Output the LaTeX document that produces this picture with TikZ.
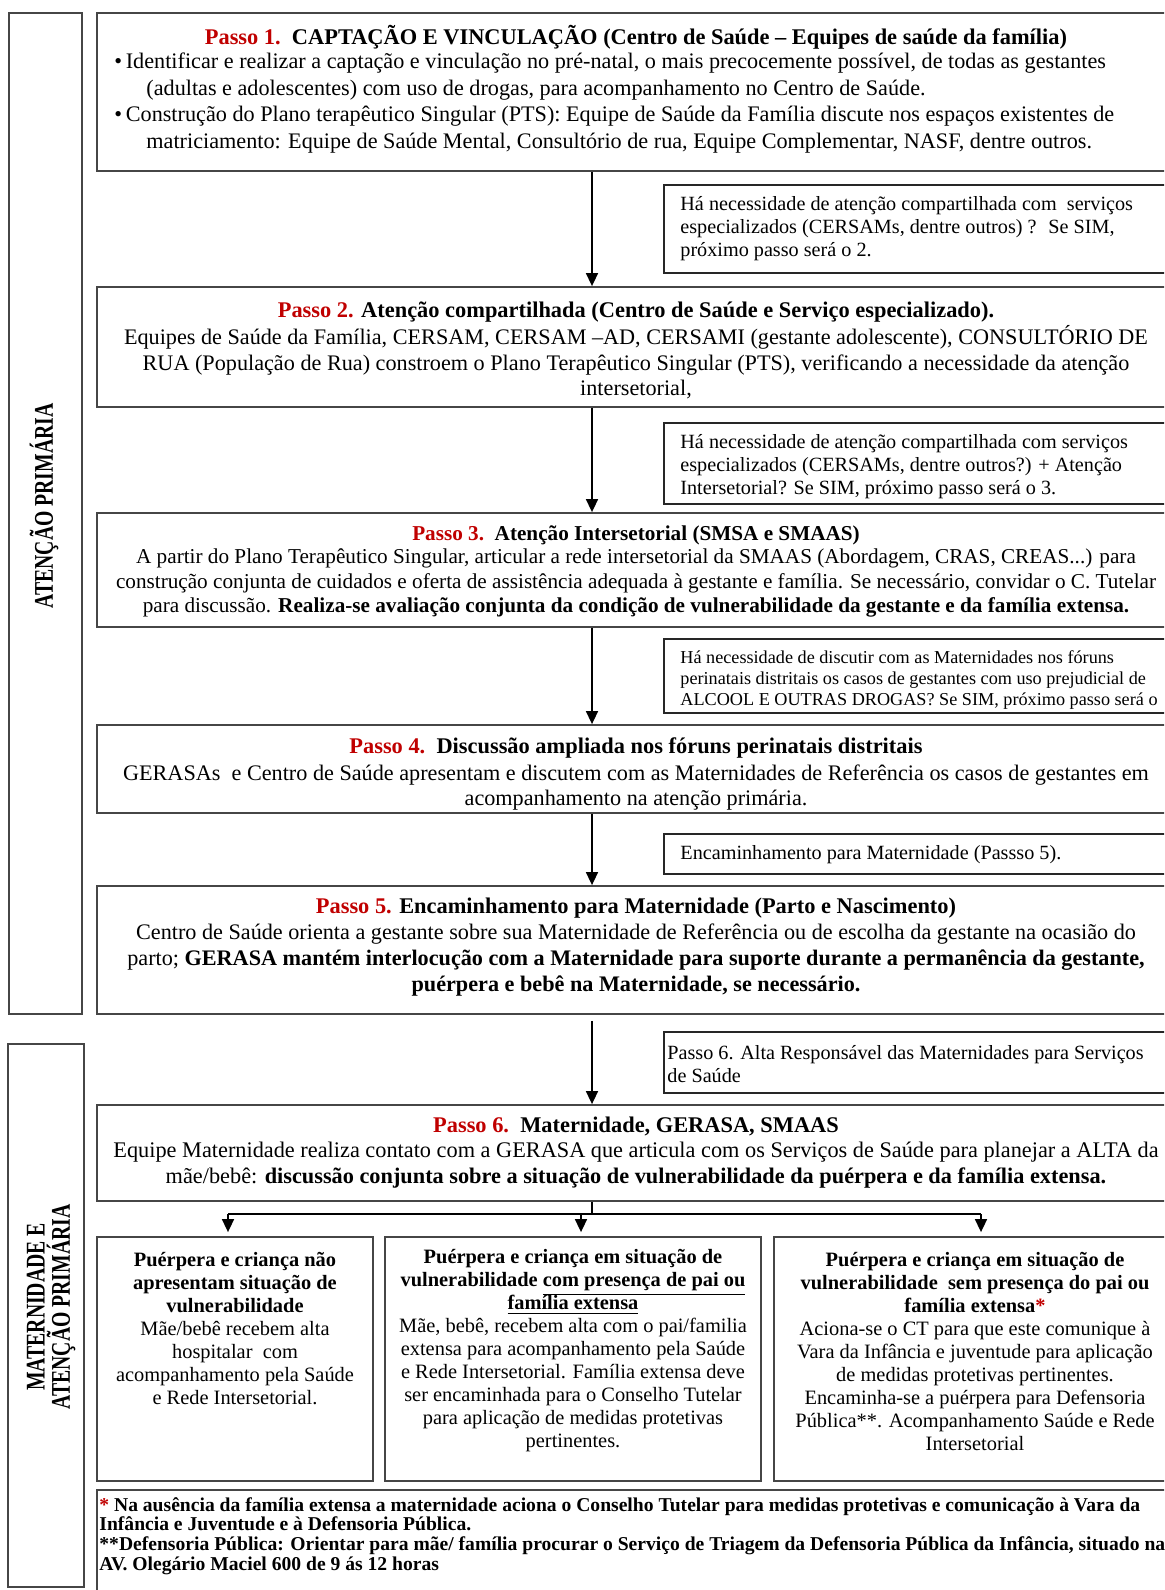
\documentclass[tikz,border=0pt]{standalone}
\usepackage{fontspec}
\setmainfont{Liberation Serif}
\usetikzlibrary{arrows.meta,fit,positioning}
\definecolor{passored}{RGB}{192,0,0}
\definecolor{boxgray}{RGB}{70,70,70}
\newcommand{\passolbl}[1]{\textcolor{passored}{Passo #1.}}
\tikzset{
  box/.style={draw=boxgray,line width=0.9pt,inner sep=0pt},
  sidebox/.style={draw=black!85,line width=1pt,inner sep=0pt},
  steptitle/.style={font=\fontsize{11.2}{12.5}\selectfont\bfseries,inner sep=0pt},
  stepbody/.style={font=\fontsize{11.1}{12.8}\selectfont,align=center,inner sep=0pt},
  sidetext/.style={font=\fontsize{10.1}{11.5}\selectfont,align=left,anchor=west,inner sep=0pt},
  branchtext/.style={font=\fontsize{10.2}{11.5}\selectfont,align=center,inner sep=0pt},
  sidelabel/.style={font=\fontsize{13.5}{11}\selectfont\bfseries,rotate=90,align=center,inner sep=0pt},
  arr/.style={-{Triangle[width=6pt,length=6.5pt]},line width=0.8pt}
}
\begin{document}
\begin{tikzpicture}[x=0.5pt,y=-0.5pt]
  \useasboundingbox (0,0) rectangle (1164,1590);
  \clip (0,0) rectangle (1164,1590);

  % Left labels
  \node[box,fit={(9,13) (82,1014)}] (ap) {};
  \node[sidelabel] (apt) at (44,506) {\scalebox{0.73}[1]{ATENÇÃO PRIMÁRIA}};
  \node[box,fit={(8,1044) (84,1587)}] (mat) {};
  \node[sidelabel] (matt) at (51,1307) {\scalebox{0.73}[1]{MATERNIDADE E}\\\scalebox{0.73}[1]{ATENÇÃO PRIMÁRIA}};

  % Passo 1
  \node[box,fit={(97,13) (1175,171)}] (p1) {};
  \node[steptitle] (p1t) at (636,37) {\passolbl{1}\ \ CAPTAÇÃO E VINCULAÇÃO (Centro de Saúde – Equipes de saúde da família)};
  \node[stepbody,align=left,anchor=west,font=\fontsize{11.1}{13.3}\selectfont] (p1b) at (114,103)
    {\textbullet\,Identificar e realizar a captação e vinculação no pré-natal, o mais precocemente possível, de todas as gestantes\\
     \hspace*{16pt}(adultas e adolescentes) com uso de drogas, para acompanhamento no Centro de Saúde.\\
     \textbullet\,Construção do Plano terapêutico Singular (PTS): Equipe de Saúde da Família discute nos espaços existentes de\\
     \hspace*{16pt}matriciamento: Equipe de Saúde Mental, Consultório de rua, Equipe Complementar, NASF, dentre outros.};
  \node[sidebox,fit={(664,185) (1175,273)}] (s1) {};
  \node[sidetext] (s1t) at (680,229)
    {Há necessidade de atenção compartilhada com \ serviços\\
     especializados (CERSAMs, dentre outros) ? \ Se SIM,\\
     próximo passo será o 2.};

  % Passo 2
  \node[box,fit={(97,287) (1175,407)}] (p2) {};
  \node[steptitle] (p2t) at (636,312) {\passolbl{2} Atenção compartilhada (Centro de Saúde e Serviço especializado).};
  \node[stepbody] (p2b) at (636,362.5)
    {Equipes de Saúde da Família, CERSAM, CERSAM –AD, CERSAMI (gestante adolescente), CONSULTÓRIO DE\\
     RUA (População de Rua) constroem o Plano Terapêutico Singular (PTS), verificando a necessidade da atenção\\
     intersetorial,};
  \node[sidebox,fit={(664,423) (1175,504)}] (s2) {};
  \node[sidetext] (s2t) at (680,466.5)
    {Há necessidade de atenção compartilhada com serviços\\
     especializados (CERSAMs, dentre outros?) + Atenção\\
     Intersetorial? Se SIM, próximo passo será o 3.};

  % Passo 3
  \node[box,fit={(97,513) (1175,627)}] (p3) {};
  \node[steptitle,font=\fontsize{10.6}{12.5}\selectfont\bfseries] (p3t) at (636,535) {\passolbl{3}\ \ Atenção Intersetorial (SMSA e SMAAS)};
  \node[stepbody,font=\fontsize{10.6}{12.4}\selectfont] (p3b) at (636,583)
    {A partir do Plano Terapêutico Singular, articular a rede intersetorial da SMAAS (Abordagem, CRAS, CREAS...) para\\
     construção conjunta de cuidados e oferta de assistência adequada à gestante e família. Se necessário, convidar o C. Tutelar\\
     para discussão. \textbf{Realiza-se avaliação conjunta da condição de vulnerabilidade da gestante e da família extensa.}};
  \node[sidebox,fit={(664,639) (1175,713)}] (s3) {};
  \node[sidetext,font=\fontsize{9.1}{10.6}\selectfont] (s3t) at (680,680)
    {Há necessidade de discutir com as Maternidades nos fóruns\\
     perinatais distritais os casos de gestantes com uso prejudicial de\\
     ALCOOL E OUTRAS DROGAS? Se SIM, próximo passo será o};

  % Passo 4
  \node[box,fit={(97,725) (1175,813)}] (p4) {};
  \node[steptitle] (p4t) at (636,748) {\passolbl{4}\ \ Discussão ampliada nos fóruns perinatais distritais};
  \node[stepbody] (p4b) at (636,787.5)
    {GERASAs \ e Centro de Saúde apresentam e discutem com as Maternidades de Referência os casos de gestantes em\\
     acompanhamento na atenção primária.};
  \node[sidebox,fit={(664,834) (1175,874)}] (s4) {};
  \node[sidetext] (s4t) at (680,855) {Encaminhamento para Maternidade (Passso 5).};

  % Passo 5
  \node[box,fit={(97,886) (1175,1014)}] (p5) {};
  \node[steptitle] (p5t) at (636,908) {\passolbl{5} Encaminhamento para Maternidade (Parto e Nascimento)};
  \node[stepbody] (p5b) at (636,960)
    {Centro de Saúde orienta a gestante sobre sua Maternidade de Referência ou de escolha da gestante na ocasião do\\
     parto; \textbf{GERASA mantém interlocução com a Maternidade para suporte durante a permanência da gestante,}\\
     \textbf{puérpera e bebê na Maternidade, se necessário.}};
  \node[sidebox,fit={(664,1032) (1175,1093)}] (s5) {};
  \node[sidetext] (s5t) at (667,1064.5)
    {Passo 6. Alta Responsável das Maternidades para Serviços\\
     de Saúde};

  % Passo 6
  \node[box,fit={(97,1105) (1175,1201)}] (p6) {};
  \node[steptitle] (p6t) at (636,1126) {\passolbl{6}\ \ Maternidade, GERASA, SMAAS};
  \node[stepbody,font=\fontsize{11.15}{13}\selectfont] (p6b) at (636,1165)
    {Equipe Maternidade realiza contato com a GERASA que articula com os Serviços de Saúde para planejar a ALTA da\\
     mãe/bebê: \textbf{discussão conjunta sobre a situação de vulnerabilidade da puérpera e da família extensa.}};

  % Branches
  \node[box,fit={(97,1237) (373,1481)}] (ba) {};
  \node[branchtext] (bat) at (235,1328.5)
    {\textbf{Puérpera e criança não}\\
     \textbf{apresentam situação de}\\
     \textbf{vulnerabilidade}\\
     Mãe/bebê recebem alta\\
     hospitalar \ com\\
     acompanhamento pela Saúde\\
     e Rede Intersetorial.};
  \node[box,fit={(385,1237) (761,1481)}] (bb) {};
  \node[branchtext] (bbt) at (573,1351)
    {\textbf{Puérpera e criança em situação de}\\
     \textbf{vulnerabilidade \underline{com presença de pai ou}}\\
     \textbf{\underline{família extensa}}\\
     Mãe, bebê, recebem alta com o pai/familia\\
     extensa para acompanhamento pela Saúde\\
     e Rede Intersetorial. Família extensa deve\\
     ser encaminhada para o Conselho Tutelar\\
     para aplicação de medidas protetivas\\
     pertinentes.};
  \node[box,fit={(774,1237) (1175,1481)}] (bc) {};
  \node[branchtext] (bct) at (975,1351)
    {\textbf{Puérpera e criança em situação de}\\
     \textbf{vulnerabilidade \ sem presença do pai ou}\\
     \textbf{família extensa\textcolor{passored}{*}}\\
     Aciona-se o CT para que este comunique à\\
     Vara da Infância e juventude para aplicação\\
     de medidas protetivas pertinentes.\\
     Encaminha-se a puérpera para Defensoria\\
     Pública**. Acompanhamento Saúde e Rede\\
     Intersetorial};

  % Footnote
  \node[box,fit={(97,1490) (1175,1600)}] (fn) {};
  \node[font=\fontsize{9.8}{9.9}\selectfont\bfseries,align=left,anchor=west,inner sep=0pt] (fnt) at (99,1536)
    {\textcolor{passored}{*} Na ausência da família extensa a maternidade aciona o Conselho Tutelar para medidas protetivas e comunicação à Vara da\\
     Infância e Juventude e à Defensoria Pública.\\
     **Defensoria Pública: Orientar para mãe/ família procurar o Serviço de Triagem da Defensoria Pública da Infância, situado na\\
     AV. Olegário Maciel 600 de 9 ás 12 horas};

  % Arrows
  \coordinate (ax) at (592,0);
  \draw[arr] (p1.south -| ax) -- (p2.north -| ax);
  \draw[arr] (p2.south -| ax) -- (p3.north -| ax);
  \draw[arr] (p3.south -| ax) -- (p4.north -| ax);
  \draw[arr] (p4.south -| ax) -- (p5.north -| ax);
  \draw[arr,shorten <=3pt] (p5.south -| ax) -- (p6.north -| ax);
  \coordinate (ka) at (228,1214);
  \coordinate (kb) at (581,1214);
  \coordinate (kc) at (981,1214);
  \draw[line width=0.8pt] (p6.south -| ax) -- (ax |- ka);
  \draw[line width=0.8pt] (ka) -- (kc);
  \foreach \k/\b in {ka/ba,kb/bb,kc/bc}
    \draw[arr,shorten >=2pt] (\k) -- (\k |- \b.north);
\end{tikzpicture}
\end{document}
